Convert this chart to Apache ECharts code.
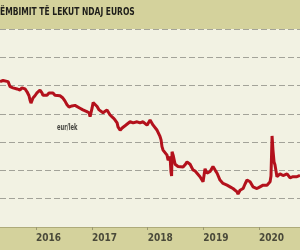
<!DOCTYPE html>
<html>
<head>
<meta charset="utf-8">
<script src="https://cdn.jsdelivr.net/npm/echarts@6/dist/echarts.min.js"></script>
<style>
html,body{margin:0;padding:0;background:#d4d29c;}
#c{width:300px;height:250px;}
</style>
</head>
<body>
<div id="c"></div>
<script>
// Title and labels
const titleText = 'ËMBIMIT TË LEKUT NDAJ EUROS';
const seriesName = 'eur/lek';
const yearTicks = ['2016-01-01', '2017-01-01', '2018-01-01', '2019-01-01', '2020-01-01'];

// Exchange rate EUR/ALL
const dates = [
  '2015-05-10','2015-05-30','2015-06-12','2015-07-02','2015-07-15','2015-07-28','2015-08-03','2015-08-16','2015-08-30',
  '2015-09-18','2015-10-01','2015-10-08','2015-10-21','2015-11-03','2015-11-16','2015-11-22','2015-11-29','2015-12-12','2015-12-25',
  '2016-01-07','2016-01-20','2016-01-27','2016-02-09','2016-02-15','2016-02-28','2016-03-13','2016-03-26','2016-04-01','2016-04-21',
  '2016-05-04','2016-05-17','2016-06-06','2016-06-19','2016-06-25','2016-07-08','2016-07-22','2016-08-04','2016-08-10','2016-08-23',
  '2016-08-30','2016-09-12','2016-09-25','2016-10-15','2016-11-03','2016-11-16','2016-11-29','2016-12-13','2016-12-20',
  '2017-01-02','2017-01-09','2017-01-22','2017-02-04','2017-02-17','2017-02-24','2017-03-15','2017-03-28','2017-04-10','2017-04-30',
  '2017-05-20','2017-06-02','2017-06-15','2017-06-21','2017-07-05','2017-07-18','2017-07-24','2017-08-06','2017-08-19','2017-09-08',
  '2017-09-28','2017-10-11','2017-10-24','2017-11-12','2017-12-02','2017-12-15','2017-12-28',
  '2018-01-17','2018-01-30','2018-02-06','2018-02-19','2018-03-04','2018-03-23','2018-03-30','2018-04-05','2018-04-12','2018-04-25',
  '2018-05-08','2018-05-15','2018-05-28','2018-06-03','2018-06-07','2018-06-10','2018-06-17','2018-06-30','2018-07-19','2018-08-01',
  '2018-08-21','2018-09-03','2018-09-16','2018-10-06','2018-10-25','2018-11-08','2018-11-21','2018-12-10','2018-12-30',
  '2019-01-12','2019-01-25','2019-02-14','2019-03-05','2019-03-18','2019-04-01','2019-04-20','2019-05-10','2019-05-23','2019-06-05',
  '2019-06-25','2019-07-14','2019-07-27','2019-08-10','2019-08-16','2019-08-29','2019-09-18','2019-10-01','2019-10-14','2019-10-21',
  '2019-11-03','2019-11-22','2019-12-05','2019-12-18',
  '2020-01-07','2020-01-27','2020-02-09','2020-02-22','2020-03-13','2020-03-19','2020-03-26','2020-04-01','2020-04-08','2020-04-14',
  '2020-04-27','2020-05-17','2020-06-06','2020-06-19','2020-07-02','2020-07-22','2020-08-10','2020-08-23','2020-09-05','2020-09-25'
];
const rates = [
  140.7,140.9,140.9,140.7,139.8,139.7,139.6,139.7,139.4,
  139.2,139.6,139.8,139.4,138.9,138.2,137.5,136.9,137.8,138.2,
  138.7,139.0,139.2,138.7,138.3,138.5,138.3,138.7,138.7,138.7,
  138.3,138.0,138.2,138.0,137.8,137.3,136.6,136.2,136.0,136.4,
  136.3,136.5,136.3,136.0,135.7,135.6,135.4,135.2,134.5,
  136.0,137.0,137.1,136.3,135.7,135.4,135.2,135.5,135.7,134.8,
  134.3,133.9,133.4,132.7,132.1,132.5,132.5,132.9,133.0,133.6,
  133.4,133.6,133.6,133.4,133.6,133.4,133.0,
  133.9,133.6,133.0,132.7,132.1,131.0,130.4,129.2,128.6,128.3,
  127.7,126.8,127.4,124.7,124.0,128.3,127.7,126.1,125.7,126.0,
  125.6,126.0,126.5,126.1,125.1,124.9,124.6,123.9,123.0,
  125.3,124.5,124.8,125.7,125.1,124.5,123.3,122.7,122.6,122.4,
  122.1,121.8,121.7,121.2,120.8,121.5,121.8,122.6,123.3,123.6,
  123.0,122.1,122.1,121.8,
  122.1,122.4,122.4,122.4,123.0,124.0,131.1,128.6,126.5,126.0,
  123.9,124.4,124.1,124.2,124.4,123.7,123.9,123.8,123.9,124.1
];

const toTime = d => new Date(d + 'T00:00:00Z').getTime();
const chart = echarts.init(document.getElementById('c'), null, {renderer: 'canvas'});
const tickValues = yearTicks.map(toTime);
const lineData = dates.map((d, i) => [toTime(d), rates[i]]);
const condensed = '"DejaVu Sans Condensed", "Liberation Sans Narrow", sans-serif';

chart.setOption({
  backgroundColor: '#d4d29c',
  animation: false,
  grid: {
    left: 0, right: 0, top: 29, bottom: 23,
    show: true, backgroundColor: '#f2f2e3', borderWidth: 0,
    outerBoundsMode: 'none'
  },
  xAxis: {
    type: 'value',
    min: toTime(dates[0]),
    max: toTime(dates[dates.length - 1]),
    axisLine: {show: true, lineStyle: {color: '#aeab7a', width: 1}},
    axisTick: {show: true, customValues: tickValues, length: 3, inside: false, lineStyle: {color: '#9c9970'}},
    axisLabel: {
      customValues: tickValues,
      align: 'left',
      margin: 6,
      color: '#4a4a3a',
      fontFamily: condensed,
      fontWeight: 'bold',
      fontSize: 10,
      formatter: v => String(new Date(v).getUTCFullYear())
    },
    splitLine: {show: false}
  },
  yAxis: {
    type: 'value',
    min: 115, max: 150, interval: 5,
    axisLine: {show: false}, axisTick: {show: false}, axisLabel: {show: false},
    splitLine: {show: true, lineStyle: {color: '#a3a399', width: 1, type: [6, 3]}}
  },
  graphic: [
    {type: 'text', x: 0, y: 7, scaleX: 0.8, style: {text: titleText, fill: '#1e1e1a', font: 'bold 10.5px ' + condensed}},
    {type: 'text', x: 57, y: 123, scaleX: 0.68, style: {text: seriesName, fill: '#45453f', font: 'bold 8.5px ' + condensed}}
  ],
  series: [{
    type: 'line',
    name: seriesName,
    data: lineData,
    showSymbol: false,
    lineStyle: {color: '#b3111c', width: 3},
    emphasis: {disabled: true}
  }]
});
</script>
</body>
</html>
